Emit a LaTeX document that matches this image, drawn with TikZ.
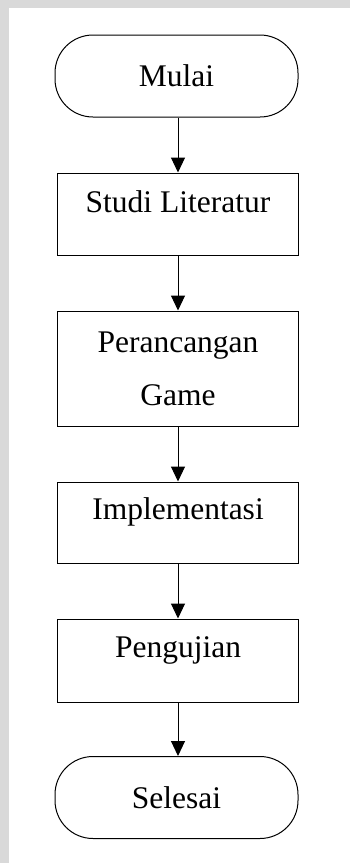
\documentclass[tikz,border=0pt]{standalone}
\usepackage{fontspec}
\setmainfont{Liberation Serif}
\usetikzlibrary{arrows.meta}
\usetikzlibrary{positioning}
\definecolor{bandgray}{HTML}{D9D9D9}
\tikzset{
    terminal/.style={draw, rectangle, rounded corners=38pt,
        minimum width=243pt, minimum height=82pt, inner sep=0pt,
        font=\fontsize{31.5}{53}\selectfont},
    procbox/.style={draw, rectangle, minimum width=241pt, inner sep=0pt,
        font=\fontsize{31.5}{53}\selectfont},
    oneline/.style={text height=39pt, text depth=43pt},
    flow/.style={-{Triangle[width=14pt,length=15pt]}, line width=1pt}
}
\begin{document}
\begin{tikzpicture}[x=1pt, y=-1pt, line width=1pt]
\useasboundingbox (0,0) rectangle (350,863);
% background bands
\fill[bandgray] (0,0) rectangle (350,7.5);
\fill[bandgray] (0,0) rectangle (8.5,863);
% flow chart
\node[terminal] (mulai) at (176.5,76) {Mulai};
\node[procbox, oneline] (studi) at (178,214) {Studi Literatur};
\node[procbox, minimum height=115pt, align=center] (rancang) at (178,368.5) {Perancangan\\Game};
\node[procbox, oneline, text height=37pt, text depth=44pt] (impl) at (178,522.5) {Implementasi};
\node[procbox, oneline, text height=38pt, text depth=45pt] (uji) at (178,660.5) {Pengujian};
\node[terminal] (selesai) at (176.5,797.5) {Selesai};
\draw[flow] (mulai.south -| studi.north) -- (studi.north);
\draw[flow] (studi) -- (rancang);
\draw[flow] (rancang) -- (impl);
\draw[flow] (impl) -- (uji);
\draw[flow] (uji.south) -- (uji.south |- selesai.north);
\end{tikzpicture}
\end{document}
